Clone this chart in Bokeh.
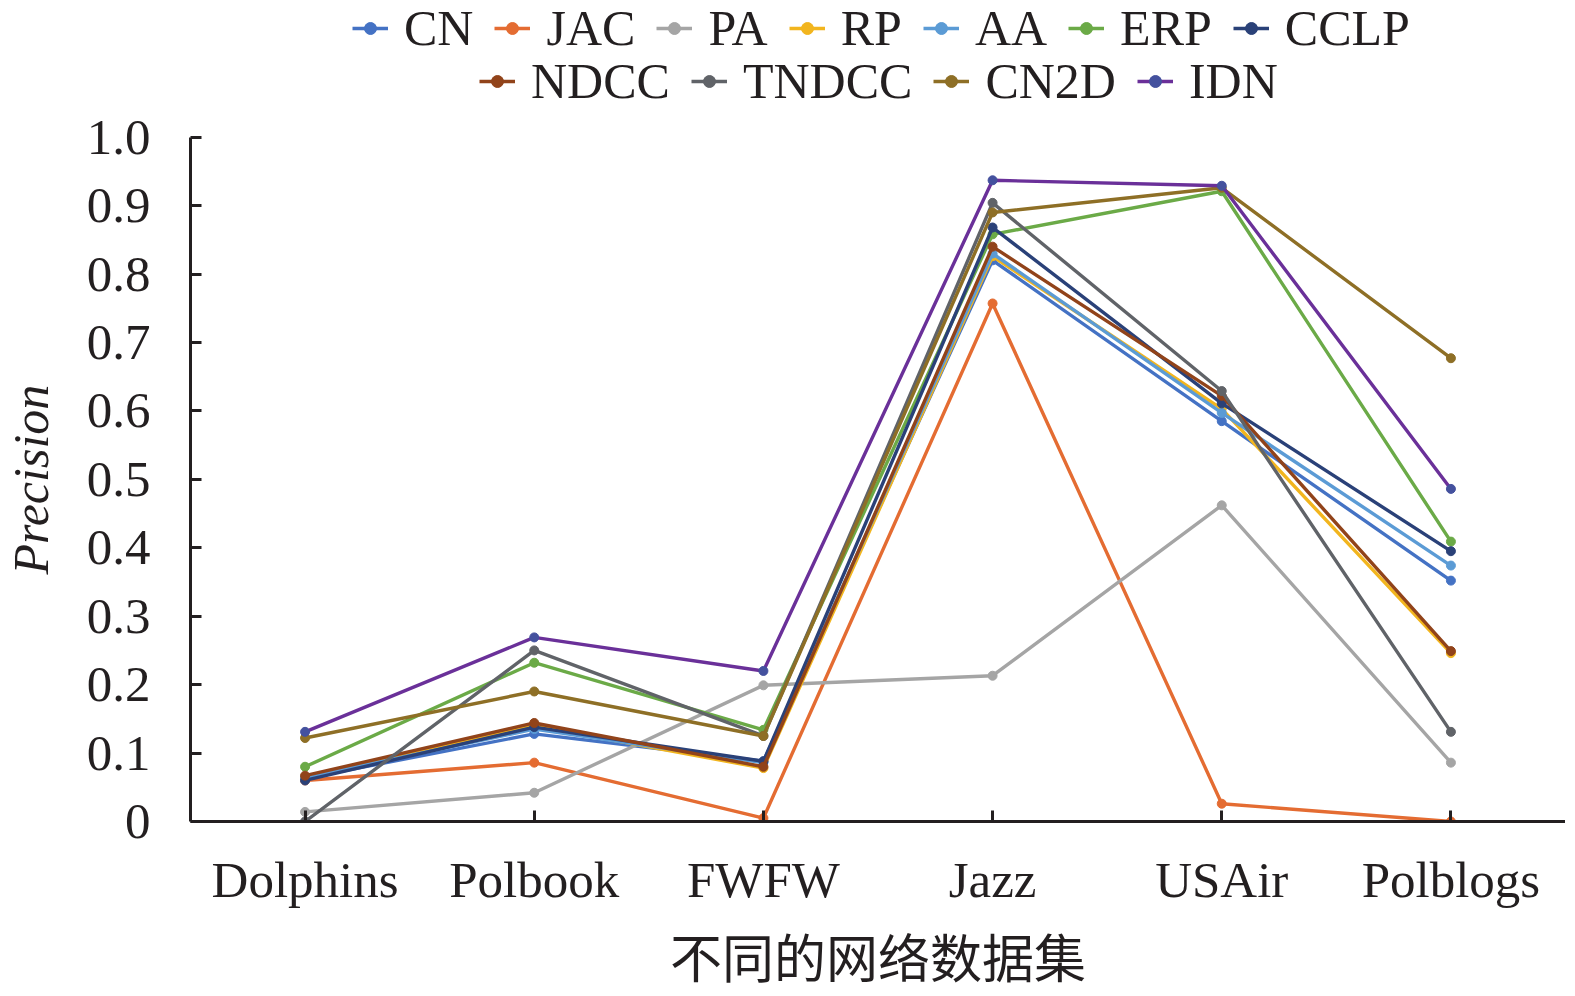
from bokeh.plotting import figure
from bokeh.models import FactorRange, Range1d, FixedTicker, PrintfTickFormatter, Legend, LegendItem, Title
from bokeh.embed import file_html
from bokeh.resources import INLINE

categories = ["Dolphins", "Polbook", "FWFW", "Jazz", "USAir", "Polblogs"]

series_names = ["CN", "JAC", "PA", "RP", "AA", "ERP", "CCLP", "NDCC", "TNDCC", "CN2D", "IDN"]

CN = [0.063, 0.128, 0.088, 0.820, 0.585, 0.352]
JAC = [0.060, 0.086, 0.005, 0.757, 0.026, 0.0]
PA = [0.014, 0.042, 0.199, 0.213, 0.462, 0.086]
RP = [0.065, 0.140, 0.078, 0.826, 0.603, 0.246]
AA = [0.064, 0.135, 0.086, 0.830, 0.597, 0.374]
ERP = [0.080, 0.232, 0.134, 0.858, 0.921, 0.409]
CCLP = [0.060, 0.138, 0.088, 0.868, 0.611, 0.395]
NDCC = [0.067, 0.144, 0.080, 0.840, 0.622, 0.249]
TNDCC = [0.0, 0.250, 0.125, 0.904, 0.629, 0.131]
CN2D = [0.122, 0.190, 0.125, 0.890, 0.926, 0.677]
IDN = [0.131, 0.269, 0.220, 0.937, 0.929, 0.486]

series_values = [CN, JAC, PA, RP, AA, ERP, CCLP, NDCC, TNDCC, CN2D, IDN]

line_colors = ["#4472C4", "#E46C32", "#A5A5A5", "#F2B51E", "#5B9BD5", "#6BAA47",
               "#2A4178", "#91431A", "#606368", "#8E6F26", "#6A3099"]
marker_colors = ["#4472C4", "#E46C32", "#A5A5A5", "#F2B51E", "#5B9BD5", "#6BAA47",
                 "#2A4178", "#91431A", "#606368", "#8E6F26", "#44519E"]

y_ticks = [0, 0.1, 0.2, 0.3, 0.4, 0.5, 0.6, 0.7, 0.8, 0.9, 1.0]

x_title = "不同的网络数据集"
y_title = "Precision"

FONT = "Liberation Serif"
FS = "50px"
TICK_FS = "51px"

W, H = 1565, 991
ML, MR, MB = 188, 0, 168
TOP_GAP = 137                     # pixels between frame top and y = 1.0
FRAME_H = H - MB
Y_END = FRAME_H / (FRAME_H - TOP_GAP)

p = figure(x_range=FactorRange(*categories), y_range=Range1d(0, Y_END),
           width=W, height=H, output_backend="svg", toolbar_location=None,
           min_border_left=ML, min_border_right=MR, min_border_bottom=MB, min_border_top=0)

p.outline_line_color = None
p.xgrid.visible = False
p.ygrid.visible = False

renderers = []
for name, vals, lc, mc in zip(series_names, series_values, line_colors, marker_colors):
    l = p.line(categories, vals, line_color=lc, line_width=3.4)
    s = p.scatter(categories, vals, size=9, fill_color=mc, line_color=mc)
    renderers.append((name, [l, s]))

for ax in (p.xaxis[0], p.yaxis[0]):
    ax.axis_line_width = 3
    ax.axis_line_color = "#231F20"
    ax.major_tick_line_width = 3
    ax.major_tick_line_color = "#231F20"
    ax.major_tick_in = 11
    ax.major_tick_out = 0
    ax.minor_tick_line_color = None
    ax.major_label_text_font = FONT
    ax.major_label_text_font_size = TICK_FS
    ax.major_label_text_color = "#231F20"
    ax.axis_label_text_color = "#231F20"

p.yaxis.bounds = (0, 1.0)
p.yaxis.ticker = FixedTicker(ticks=y_ticks)
p.yaxis.formatter = PrintfTickFormatter(format="%.1f")
p.yaxis.major_label_overrides = {0: "0"}
p.yaxis.major_label_standoff = 40

# spacer + y-axis title, centred on the 0..1 span rather than on the whole frame
p.add_layout(Title(text=" ", text_font_size="1px", standoff=22), "left")
p.add_layout(Title(text=y_title, align="left", offset=247, standoff=0,
                   text_font=FONT, text_font_size=FS, text_font_style="italic",
                   text_color="#231F20"), "left")

p.xaxis.major_label_standoff = 30
p.xaxis.axis_label = x_title
p.xaxis.axis_label_text_font = "Liberation Serif, Noto Sans CJK SC"
p.xaxis.axis_label_text_font_style = "normal"
p.xaxis.axis_label_text_font_size = "52px"
p.xaxis.axis_label_standoff = 21
p.x_range.range_padding = 0
p.x_range.group_padding = 0

def make_legend(items, loc):
    lg = Legend(items=[LegendItem(label=n, renderers=r) for n, r in items],
                orientation="horizontal", location=loc,
                label_text_font=FONT, label_text_font_size=FS, label_text_color="#231F20",
                glyph_width=36, glyph_height=30, label_standoff=16, spacing=21,
                padding=0, margin=0, border_line_alpha=0, background_fill_alpha=0,
                label_height=30)
    return lg

leg1 = make_legend(renderers[:7], (162, FRAME_H - 59))
leg2 = make_legend(renderers[7:], (289, FRAME_H - 112))
p.add_layout(leg1, "center")
p.add_layout(leg2, "center")

open("out.html", "w").write(file_html(p, INLINE))
